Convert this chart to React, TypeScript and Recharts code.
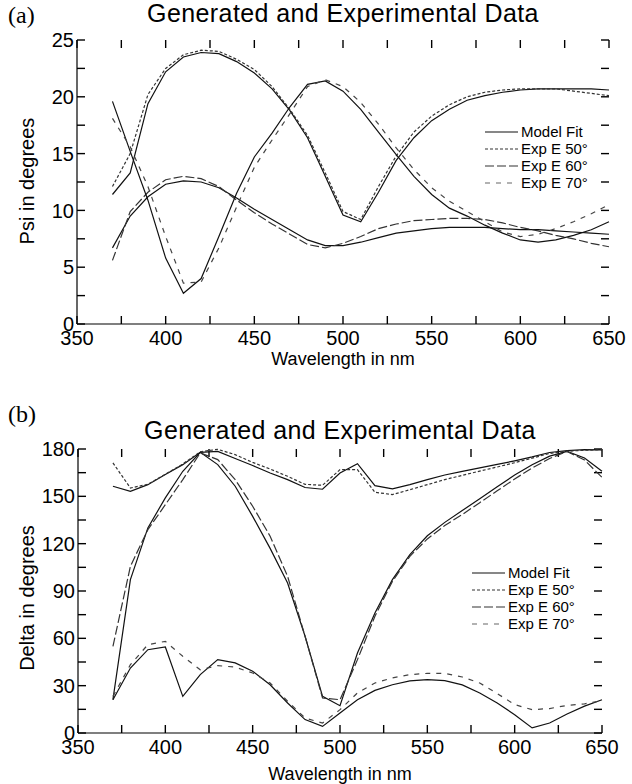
import React from "react";
import { Legend, Line, LineChart, ReferenceLine, XAxis, YAxis } from "recharts";

// wavelength grid, nm
const wavelengths = [
  370, 380, 390, 400, 410, 420, 430, 440, 450, 460, 470, 480, 490, 500, 510,
  520, 530, 540, 550, 560, 570, 580, 590, 600, 610, 620, 630, 640, 650,
];

// (a) Psi, degrees
const psiFit50 = [
  11.4, 13.3, 19.4, 22.2, 23.5, 23.9, 23.8, 23.1, 22.1, 20.7, 18.8, 16.4, 13.0, 9.6, 9.0,
  11.6, 14.4, 16.4, 17.9, 18.9, 19.7, 20.1, 20.4, 20.6, 20.7, 20.7, 20.7, 20.7, 20.6,
];
const psiExp50 = [
  12.1, 15.0, 20.2, 22.5, 23.7, 24.1, 24.0, 23.3, 22.4, 20.9, 18.9, 16.6, 13.3, 9.9, 9.2,
  12.1, 14.8, 16.9, 18.3, 19.3, 20.0, 20.4, 20.6, 20.7, 20.7, 20.7, 20.5, 20.3, 20.1,
];
const psiFit60 = [
  6.7, 9.5, 11.2, 12.3, 12.6, 12.5, 12.0, 11.1, 10.1, 9.2, 8.3, 7.4, 6.9, 6.9, 7.2,
  7.6, 8.0, 8.2, 8.4, 8.5, 8.5, 8.5, 8.4, 8.3, 8.3, 8.2, 8.1, 8.0, 7.9,
];
const psiExp60 = [
  5.6, 9.9, 11.6, 12.7, 13.0, 12.8, 12.1, 10.9, 9.8, 8.8, 7.9, 7.0, 6.7, 7.1, 7.7,
  8.4, 8.8, 9.1, 9.2, 9.3, 9.3, 9.2, 8.9, 8.5, 8.2, 7.8, 7.5, 7.1, 6.8,
];
const psiFit70 = [
  19.6, 15.2, 10.9, 5.8, 2.7, 4.0, 7.7, 11.5, 14.7, 16.8, 19.1, 21.1, 21.4, 20.5, 18.9,
  16.9, 14.9, 13.0, 11.4, 10.2, 9.5, 8.7, 8.0, 7.4, 7.2, 7.4, 7.8, 8.3, 9.0,
];
const psiExp70 = [
  18.1, 15.6, 12.1, 7.7, 3.6, 3.7, 6.7, 10.3, 13.8, 16.2, 18.5, 20.9, 21.5, 20.9, 19.5,
  17.6, 15.5, 13.6, 12.0, 10.8, 9.9, 9.0, 8.1, 7.7, 7.9, 8.4, 9.0, 9.7, 10.5,
];

// (b) Delta, degrees
const deltaFit50 = [
  156.4, 153.2, 157.4, 163.8, 170.1, 177.9, 178.5, 174.0, 169.5, 164.8, 160.6, 155.6, 154.5, 164.8, 170.7,
  156.8, 154.7, 157.4, 160.6, 163.5, 165.8, 168.0, 170.2, 172.5, 175.0, 177.8, 179.0, 179.6, 179.4,
];
const deltaExp50 = [
  171.2, 155.3, 157.6, 164.0, 170.5, 178.2, 179.8, 176.4, 171.5, 167.3, 162.7, 157.6, 157.0, 166.9, 166.9,
  152.6, 151.1, 154.2, 157.4, 160.6, 163.3, 166.0, 168.6, 171.3, 174.2, 177.2, 178.6, 179.2, 179.6,
];
const deltaFit60 = [
  21.1, 97.2, 130.0, 149.0, 165.9, 177.9, 170.1, 156.4, 137.3, 117.0, 95.1, 61.3, 23.2, 17.3, 50.7,
  76.1, 97.2, 113.0, 125.0, 133.5, 141.0, 148.5, 156.0, 163.5, 170.0, 175.5, 178.5, 174.3, 165.9,
];
const deltaExp60 = [
  54.9, 105.6, 128.9, 144.7, 160.6, 177.5, 173.3, 160.6, 143.7, 124.7, 99.3, 61.3, 22.2, 21.1, 46.5,
  74.0, 96.1, 112.0, 123.0, 131.5, 138.5, 146.0, 153.5, 161.0, 168.0, 174.0, 178.5, 173.0, 162.0,
];
const deltaFit70 = [
  21.1, 41.2, 52.8, 54.5, 23.2, 37.0, 46.5, 44.4, 39.1, 30.6, 19.0, 8.5, 4.2, 12.7, 21.1,
  27.0, 30.6, 33.0, 33.8, 33.2, 30.5, 25.4, 19.0, 11.6, 3.2, 6.3, 12.0, 17.0, 21.1,
];
const deltaExp70 = [
  23.2, 43.3, 56.0, 58.1, 48.6, 40.1, 42.7, 41.8, 38.0, 31.7, 20.1, 9.5, 6.3, 14.8, 25.4,
  31.7, 34.9, 37.0, 37.8, 37.8, 35.5, 31.7, 25.0, 18.0, 14.8, 15.5, 17.5, 18.5, 20.5,
];

const xTicks = [350, 375, 400, 425, 450, 475, 500, 525, 550, 575, 600, 625, 650];
const psiTicks = [0, 2.5, 5, 7.5, 10, 12.5, 15, 17.5, 20, 22.5, 25];
const deltaTicks = [0, 15, 30, 45, 60, 75, 90, 105, 120, 135, 150, 165, 180];

const legendItems = [
  { label: "Model Fit", dash: undefined, color: "#111" },
  { label: "Exp E 50°", dash: "3 2", color: "#333" },
  { label: "Exp E 60°", dash: "9 3", color: "#333" },
  { label: "Exp E 70°", dash: "5 6", color: "#666" },
];

const psiRows = wavelengths.map((w, i) => ({
  w,
  fit50: psiFit50[i],
  exp50: psiExp50[i],
  fit60: psiFit60[i],
  exp60: psiExp60[i],
  fit70: psiFit70[i],
  exp70: psiExp70[i],
}));

const deltaRows = wavelengths.map((w, i) => ({
  w,
  fit50: deltaFit50[i],
  exp50: deltaExp50[i],
  fit60: deltaFit60[i],
  exp60: deltaExp60[i],
  fit70: deltaFit70[i],
  exp70: deltaExp70[i],
}));

const SANS = "'Liberation Sans', Arial, sans-serif";
const SERIF = "'Liberation Serif', 'Times New Roman', serif";
const TICK_PX = 8;
const X_MIN = 350;
const X_MAX = 650;
const CHART_W = 632;
const CHART_H = 380;

interface PanelProps {
  rows: typeof psiRows;
  yTicks: number[];
  yMax: number;
  yStep: number;
  margin: { top: number; right: number; bottom: number; left: number };
  yWidth: number;
  xHeight: number;
  legendPos: { left: number; top: number };
}

function LegendBox() {
  return (
    <div style={{ fontFamily: SANS, fontSize: 15, color: "#000" }}>
      {legendItems.map((it) => (
        <div key={it.label} style={{ display: "flex", alignItems: "center", height: 16.8 }}>
          <svg width={33} height={4}>
            <line x1={0} y1={2} x2={33} y2={2} stroke={it.color} strokeWidth={1.1} strokeDasharray={it.dash} />
          </svg>
          <span style={{ marginLeft: 3, lineHeight: "16px" }}>{it.label}</span>
        </div>
      ))}
    </div>
  );
}

// bottom/left inward tick marks, laid over the chart on the same plot box
function EdgeTicks({ yTicks, yMax, margin, yWidth, xHeight }: Omit<PanelProps, "rows" | "yStep" | "legendPos">) {
  const left = margin.left + yWidth;
  const right = CHART_W - margin.right;
  const top = margin.top;
  const bottom = CHART_H - margin.bottom - xHeight;
  const sx = (v: number) => left + ((v - X_MIN) / (X_MAX - X_MIN)) * (right - left);
  const sy = (v: number) => bottom - (v / yMax) * (bottom - top);
  return (
    <svg
      width={CHART_W}
      height={CHART_H}
      style={{ position: "absolute", left: 0, top: 0, pointerEvents: "none" }}
    >
      <g stroke="#000" strokeWidth={1.4}>
        {xTicks.map((v) => (
          <line key={`b${v}`} x1={sx(v)} y1={bottom} x2={sx(v)} y2={bottom - TICK_PX} />
        ))}
        {yTicks.map((v) => (
          <line key={`l${v}`} x1={left} y1={sy(v)} x2={left + TICK_PX} y2={sy(v)} />
        ))}
      </g>
    </svg>
  );
}

function Panel({ rows, yTicks, yMax, yStep, margin, yWidth, xHeight, legendPos }: PanelProps) {
  const tickFont = { fontSize: 20, fill: "#000", fontFamily: SANS };
  const plotW = CHART_W - margin.left - margin.right - yWidth;
  const plotH = CHART_H - margin.top - margin.bottom - xHeight;
  // inward tick length converted to data units
  const dy = (TICK_PX / plotH) * yMax;
  const dx = (TICK_PX / plotW) * (X_MAX - X_MIN);
  const tickStroke = { stroke: "#000", strokeWidth: 1.4 };

  const line = (key: string, dash?: string, color = "#111") => (
    <Line
      key={key}
      dataKey={key}
      type="linear"
      stroke={color}
      strokeWidth={1.2}
      strokeDasharray={dash}
      dot={false}
      activeDot={false}
      legendType="none"
      isAnimationActive={false}
    />
  );
  return (
    <div style={{ position: "relative", width: CHART_W, height: CHART_H }}>
      <LineChart width={CHART_W} height={CHART_H} data={rows} margin={margin}>
        <XAxis
          dataKey="w"
          type="number"
          domain={[X_MIN, X_MAX]}
          ticks={xTicks}
          interval={0}
          tickLine={false}
          tickSize={0}
          tickMargin={7}
          tick={tickFont}
          tickFormatter={(v: number) => (v % 50 === 0 ? String(v) : "")}
          height={xHeight}
          axisLine={{ stroke: "#000", strokeWidth: 1.2 }}
        />
        <XAxis
          xAxisId="top"
          orientation="top"
          dataKey="w"
          type="number"
          domain={[X_MIN, X_MAX]}
          tick={false}
          tickLine={false}
          height={0}
          axisLine={{ stroke: "#000", strokeWidth: 1.2 }}
        />
        <YAxis
          type="number"
          domain={[0, yMax]}
          ticks={yTicks}
          interval={0}
          tickLine={false}
          tickSize={0}
          tickMargin={3}
          tick={tickFont}
          tickFormatter={(v: number) => (v % yStep === 0 ? String(v) : "")}
          width={yWidth}
          axisLine={{ stroke: "#000", strokeWidth: 1.2 }}
        />
        <YAxis
          yAxisId="right"
          orientation="right"
          type="number"
          domain={[0, yMax]}
          tick={false}
          tickLine={false}
          width={0}
          axisLine={{ stroke: "#000", strokeWidth: 1.2 }}
        />
        {/* inward ticks on the top and right edges */}
        {xTicks.map((v) => (
          <ReferenceLine
            key={`xt${v}`}
            segment={[
              { x: v, y: yMax },
              { x: v, y: yMax - dy },
            ]}
            ifOverflow="visible"
            {...tickStroke}
          />
        ))}
        {yTicks.map((v) => (
          <ReferenceLine
            key={`yr${v}`}
            segment={[
              { x: X_MAX, y: v },
              { x: X_MAX - dx, y: v },
            ]}
            ifOverflow="visible"
            {...tickStroke}
          />
        ))}
        {line("fit50")}
        {line("exp50", "3 2", "#333")}
        {line("fit60")}
        {line("exp60", "9 3", "#333")}
        {line("fit70")}
        {line("exp70", "5 6", "#444")}
        <Legend
          layout="horizontal"
          verticalAlign="middle"
          align="center"
          content={<LegendBox />}
          wrapperStyle={{ position: "absolute", left: legendPos.left, top: legendPos.top, width: "auto" }}
        />
      </LineChart>
      <EdgeTicks yTicks={yTicks} yMax={yMax} margin={margin} yWidth={yWidth} xHeight={xHeight} />
    </div>
  );
}

const textStyle: React.CSSProperties = {
  position: "absolute",
  fontFamily: SANS,
  color: "#000",
  whiteSpace: "nowrap",
};

export default function App() {
  return (
    <div style={{ position: "absolute", left: 0, top: 0, width: 632, height: 784, background: "#fff" }}>
      {/* panel (a) */}
      <div style={{ position: "absolute", left: 0, top: 0 }}>
        <Panel
          rows={psiRows}
          yTicks={psiTicks}
          yMax={25}
          yStep={5}
          margin={{ top: 40, right: 23, bottom: 0, left: 0 }}
          yWidth={77}
          xHeight={56}
          legendPos={{ left: 485, top: 124 }}
        />
      </div>
      <div style={{ ...textStyle, fontFamily: SERIF, fontSize: 24, left: 8, top: 1, lineHeight: "28px" }}>(a)</div>
      <div
        style={{
          ...textStyle,
          fontSize: 25,
          letterSpacing: 0.4,
          left: 93,
          width: 500,
          textAlign: "center",
          top: 0,
          lineHeight: "26px",
        }}
      >
        Generated and Experimental Data
      </div>
      <div style={{ ...textStyle, fontSize: 18, left: 243, width: 200, textAlign: "center", top: 348, lineHeight: "22px" }}>
        Wavelength in nm
      </div>
      <div
        style={{
          ...textStyle,
          fontSize: 20,
          left: 27 - 100,
          width: 200,
          textAlign: "center",
          top: 181 - 12,
          lineHeight: "24px",
          transform: "rotate(-90deg)",
        }}
      >
        Psi in degrees
      </div>

      {/* panel (b) */}
      <div style={{ position: "absolute", left: 0, top: 400 }}>
        <Panel
          rows={deltaRows}
          yTicks={deltaTicks}
          yMax={180}
          yStep={30}
          margin={{ top: 49, right: 30, bottom: 0, left: 0 }}
          yWidth={78}
          xHeight={47}
          legendPos={{ left: 472, top: 165 }}
        />
      </div>
      <div style={{ ...textStyle, fontFamily: SERIF, fontSize: 24, left: 8, top: 400, lineHeight: "28px" }}>(b)</div>
      <div
        style={{
          ...textStyle,
          fontSize: 25,
          letterSpacing: 0.4,
          left: 90,
          width: 500,
          textAlign: "center",
          top: 416,
          lineHeight: "28px",
        }}
      >
        Generated and Experimental Data
      </div>
      <div style={{ ...textStyle, fontSize: 18, left: 240, width: 200, textAlign: "center", top: 763, lineHeight: "22px" }}>
        Wavelength in nm
      </div>
      <div
        style={{
          ...textStyle,
          fontSize: 20,
          left: 27 - 100,
          width: 200,
          textAlign: "center",
          top: 598 - 12,
          lineHeight: "24px",
          transform: "rotate(-90deg)",
        }}
      >
        Delta in degrees
      </div>
    </div>
  );
}
